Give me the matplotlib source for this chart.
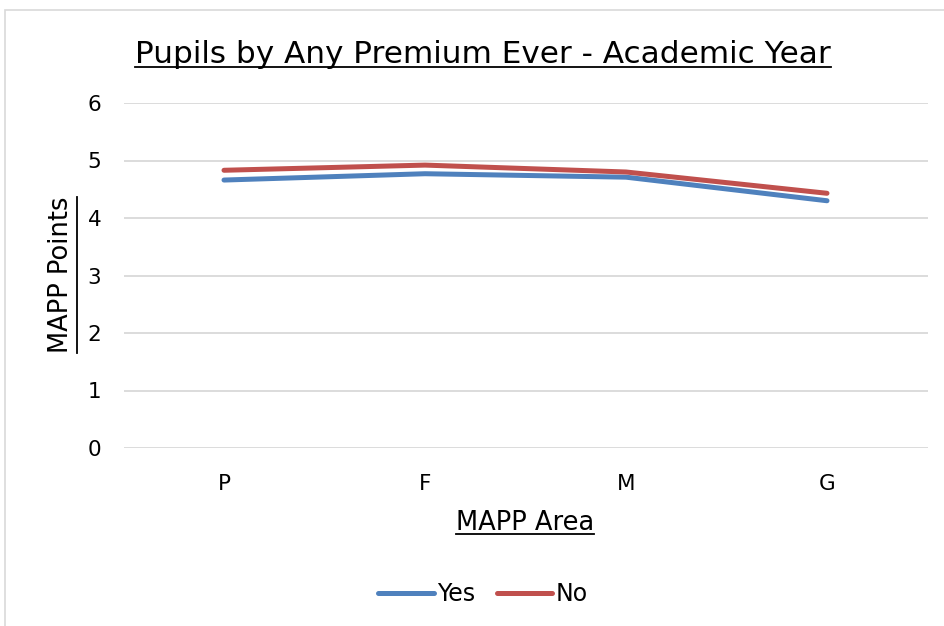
import matplotlib
matplotlib.use("Agg")
import matplotlib.pyplot as plt
from matplotlib.lines import Line2D
from matplotlib.patches import Rectangle

categories = ["P", "F", "M", "G"]
yes_values = [4.66, 4.77, 4.71, 4.30]
no_values = [4.83, 4.92, 4.80, 4.43]
y_ticks = [0, 1, 2, 3, 4, 5, 6]

plt.rcParams['font.family'] = ['DejaVu Sans']

W, H = 944, 626
fig = plt.figure(figsize=(W / 100, H / 100), dpi=100)
fig.patch.set_facecolor("white")

# chart border
fig.patches.append(Rectangle((5 / W, -0.01), 1.0, 1 - 10 / H + 0.01, transform=fig.transFigure,
                             fill=False, edgecolor="#D9D9D9", linewidth=1.2))

ax = fig.add_axes([123.5 / W, 1 - 448 / H, 804 / W, 345 / H])
x = list(range(len(categories)))
ax.plot(x, yes_values, color="#4F81BD", linewidth=3.6, solid_capstyle="round", label="Yes", zorder=3)
ax.plot(x, no_values, color="#C0504D", linewidth=3.6, solid_capstyle="round", label="No", zorder=3)

ax.set_xlim(-0.5, 3.5)
ax.set_ylim(0, 6)
ax.set_yticks(y_ticks)
ax.set_xticks(x)
ax.set_xticklabels(categories)
ax.tick_params(axis="both", length=0, labelsize=15.5, colors="#000000")
ax.tick_params(axis="y", pad=16)
ax.tick_params(axis="x", pad=19)
ax.grid(axis="y", color="#D9D9D9", linewidth=1.3)
ax.set_axisbelow(True)
for s in ax.spines.values():
    s.set_visible(False)

title = fig.text(483 / W, 1 - 63 / H, "Pupils by Any Premium Ever - Academic Year",
                 ha="center", va="baseline", fontsize=22.4)
xlab = fig.text(525 / W, 1 - 530 / H, "MAPP Area", ha="center", va="baseline", fontsize=18.5)
ylab = fig.text(61 / W, 1 - 275 / H, "MAPP Points", ha="center", va="center", fontsize=18.5, rotation=90)

leg = fig.legend(handles=[Line2D([], [], color="#4F81BD", lw=3.6, solid_capstyle="round"),
                          Line2D([], [], color="#C0504D", lw=3.6, solid_capstyle="round")],
                 labels=["Yes", "No"], loc="center", bbox_to_anchor=(483 / W, 1 - 594 / H),
                 ncol=2, frameon=False, fontsize=17, handlelength=2.35, handletextpad=0.15,
                 columnspacing=0.9)

fig.canvas.draw()
r = fig.canvas.get_renderer()


def underline_h(t, base_px, gap=4):
    bb = t.get_window_extent(r)
    yy = H - (base_px + gap)
    fig.lines.append(Line2D([bb.x0 / W, bb.x1 / W], [yy / H, yy / H], transform=fig.transFigure,
                            color="black", lw=1.3))


def underline_v(t, gap=3):
    bb = t.get_window_extent(r)
    _, _, d = r.get_text_width_height_descent(t.get_text(), t.get_fontproperties(), ismath=False)
    xx = bb.x1 - d + gap
    fig.lines.append(Line2D([xx / W, xx / W], [bb.y0 / H, bb.y1 / H], transform=fig.transFigure,
                            color="black", lw=1.3))


underline_h(title, 63)
underline_h(xlab, 530)
underline_v(ylab)

fig.savefig("out.png", dpi=100)
